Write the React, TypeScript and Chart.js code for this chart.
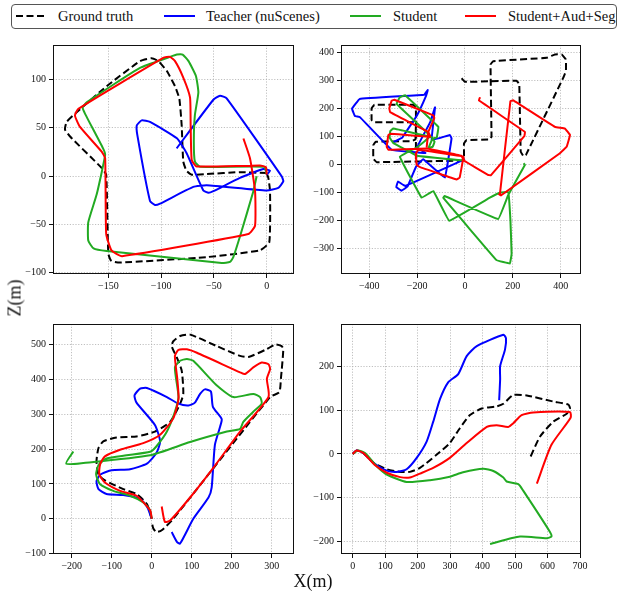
import React, { useEffect, useRef } from 'react';
import { Chart, registerables } from 'chart.js';

Chart.register(...registerables);

type P = [number, number];

// ---------- Series names / colours ----------
const seriesNames = ['Ground truth', 'Teacher (nuScenes)', 'Student', 'Student+Aud+Seg'];
const seriesColors = ['#000000', '#0000ff', '#22aa22', '#ff0000'];

// ---------- Panel 1 (top-left) ----------
const gt1: P[] = [[0,3],[-25,4],[-57,2],[-71,1.4],[-76,5.5],[-79,15],[-80.5,52.5],[-82.7,80],[-86.8,93],[-94.7,109],[-102.6,119],[-109,122],[-120,119],[-151.6,93],[-180,66],[-189.5,56],[-191,48],[-186,40.6],[-156,8],[-152,1.4],[-150,-80.5],[-147,-88],[-139,-89.7],[-57,-84],[-6.3,-77],[2.5,-68.5],[3.2,-15.7],[1.6,-2],[0,3]];
const teacher1: P[] = [[0,1.4],[3.2,5.5],[-3.2,7.2],[-25.3,-2],[-50.5,-15.7],[-55,-17.4],[-60,-15],[-75.8,23.5],[-85,39],[-110.5,56],[-118.4,57.6],[-123,52.5],[-122.5,42.3],[-110.5,-26],[-105.8,-30],[-101,-28.6],[-69.5,-11.3],[-56.8,-9.5],[0,-15],[11,-12.3],[15.8,-5.5],[14.2,-0.3],[-37.9,80.4],[-44.2,83.2],[-50.5,79],[-85.3,28.6]];
const student1: P[] = [[0,2],[-2.5,9.5],[-63,9.5],[-68,15],[-69,35.5],[-68,63],[-64.7,86.6],[-67,103.6],[-74,119],[-79.6,125.8],[-85,125.8],[-91.6,123.4],[-120,112],[-170.5,76.4],[-174.3,71],[-172,64.4],[-155,28.6],[-153,21.8],[-161,-19],[-169,-48],[-169,-66.8],[-164,-75],[-151.6,-77.7],[-42.6,-90],[-34.7,-89],[-31.6,-84],[-25,-61.7],[-12.6,-15.7],[-9.5,-0.3]];
const full1: P[] = [[0,1.4],[-0.6,8.9],[-6.3,11],[-66.3,9.9],[-71,16.7],[-72,52.5],[-72.6,81.5],[-79,102],[-86.8,119],[-91.6,123.4],[-98,122.4],[-178.4,69.6],[-181.6,62.7],[-176.8,50.8],[-156.3,25.2],[-153,18.4],[-152,-60],[-147,-77],[-137,-83],[-17.4,-60],[-11,-51.5],[-11,-15.7],[-15.8,18.4],[-22,38.9]];

// ---------- Panel 2 (top-right) ----------
const gt2: P[] = [[-14,307],[0,294],[216,298],[227,286],[233,45],[245,27],[255,33],[411,309],[422,333],[422,374],[404,392],[376,392],[341,380],[118,368],[107,356],[111,98],[104,88],[7,86],[-4,74],[-4,21],[-10,13],[-369,7],[-383,19],[-383,68],[-373,80],[-223,82],[-207,88],[-205,145],[-215,150],[-380,150],[-390,157],[-390,200],[-378,212],[-215,212],[-205,200],[-205,17]];
const teacher2: P[] = [[0,18],[-250,-78],[-280,-62],[-287,-82],[-265,-95],[-240,-80],[-205,-10],[-175,18],[-84,-48],[-56,92],[-63,104],[-139,86],[-125,203],[-145,150],[-200,60],[-165,40],[-306,51],[-439,168],[-460,172],[-472,198],[-440,233],[-170,248],[-155,265],[-163,243],[-200,175],[-262,95],[-300,78]];
const student2: P[] = [[0,12],[-200,30],[-300,76],[-315,95],[-312,118],[-300,127],[-140,97],[-127,80],[-135,62],[-152,58],[-135,92],[-118,95],[-111,133],[-250,246],[-272,239],[-286,215],[-145,100],[-200,60],[-272,27],[-181,-120],[-132,-96],[-66,-202],[104,-120],[146,-102],[181,-100],[190,-200],[195,-320],[188,-355],[132,-343],[-91,-120],[-85,-114],[139,-196],[181,-110],[251,-2],[245,3]];
const full2a: P[] = [[146,-108],[190,225],[202,228],[376,133],[418,127],[439,104],[425,62],[397,39],[150,-112],[140,-106]];
const full2b: P[] = [[63,239],[58,228],[251,115],[248,100],[108,-40],[96,-38],[-3,12],[-7,27],[-195,51],[-205,38],[-202,-2],[-190,-10],[-35,-55],[-22,-48],[-8,18],[-15,30],[-160,56],[-320,51],[-327,62],[-320,104],[-311,109],[-146,98],[-153,115],[-313,186],[-316,200],[-306,227],[-295,230],[-132,174],[-128,165],[-153,115],[-160,60]];

// ---------- Panel 3 (bottom-left) ----------
const gt3: P[] = [[0,0],[-12,42],[-38,71],[-71,85],[-117,110],[-133,127],[-138,165],[-133,203],[-121,222],[-88,233],[-38,236],[8,250],[46,278],[71,330],[79,358],[75,425],[63,462],[50,495],[54,509],[71,524],[96,528],[163,495],[221,467],[242,464],[287,486],[310,500],[325,495],[329,486],[323,401],[319,363],[296,349],[54,0],[25,-33],[12,-38],[4,-28],[0,-8]];
const teacher3: P[] = [[0,0],[-11,33],[-29,57],[-71,68],[-113,71],[-133,85],[-138,108],[-128,127],[-100,139],[-54,142],[-12,158],[12,189],[21,222],[8,269],[-38,333],[-43,354],[-29,373],[-12,375],[38,349],[67,330],[92,325],[108,333],[121,358],[133,371],[148,365],[153,321],[175,286],[171,264],[158,212],[150,90],[142,61],[104,0],[71,-71],[63,-66],[50,-38]];
const student3: P[] = [[0,0],[-4,24],[-21,47],[-54,66],[-96,80],[-129,99],[-139,127],[-133,154],[-113,173],[-63,182],[-4,192],[12,208],[38,250],[58,307],[67,349],[58,434],[71,453],[88,458],[104,453],[163,382],[204,349],[254,358],[271,349],[275,330],[254,307],[229,278],[221,258],[188,250],[96,220],[-4,182],[-171,160],[-214,158],[-196,193]];
const full3: P[] = [[0,0],[-4,24],[-38,66],[-79,80],[-117,104],[-131,127],[-129,156],[-117,179],[-79,198],[-21,217],[21,241],[54,288],[67,344],[64,401],[58,467],[67,484],[88,486],[113,476],[221,420],[233,415],[254,434],[275,448],[292,443],[296,429],[288,401],[292,349],[221,250],[154,146],[96,61],[46,-5],[33,-9],[25,35]];

// ---------- Panel 4 (bottom-right) ----------
const gt4: P[] = [[0,0],[12,8],[33,2],[64,-20],[105,-35],[146,-41],[176,-41],[207,-32],[258,-2],[299,25],[330,59],[361,89],[397,104],[443,109],[464,115],[494,135],[536,134],[618,120],[664,113],[669,104],[659,92],[618,74],[577,40],[546,-9]];
const teacher4: P[] = [[0,0],[12,8],[33,2],[64,-20],[105,-38],[135,-41],[166,-35],[197,-9],[228,29],[248,74],[269,126],[294,164],[325,183],[351,224],[382,247],[464,273],[472,265],[469,239],[454,201],[454,171],[451,123]];
const student4: P[] = [[0,0],[17,8],[38,2],[74,-28],[105,-47],[166,-64],[238,-60],[299,-52],[340,-42],[402,-34],[433,-39],[464,-54],[474,-63],[510,-69],[525,-84],[607,-178],[612,-189],[597,-193],[515,-189],[423,-206]];
const full4: P[] = [[0,0],[12,8],[33,2],[69,-26],[105,-43],[146,-53],[176,-54],[207,-45],[248,-32],[299,-9],[351,25],[413,62],[443,66],[479,62],[494,70],[520,89],[556,95],[669,96],[671,83],[612,21],[567,-68]];

// ---------- Tick labels ----------
const xTicks1 = [-150, -100, -50, 0];
const yTicks1 = [-100, -50, 0, 50, 100];
const xTicks2 = [-400, -200, 0, 200, 400];
const yTicks2 = [-300, -200, -100, 0, 100, 200, 300, 400];
const xTicks3 = [-200, -100, 0, 100, 200, 300];
const yTicks3 = [-100, 0, 100, 200, 300, 400, 500];
const xTicks4 = [0, 100, 200, 300, 400, 500, 600, 700];
const yTicks4 = [-200, -100, 0, 100, 200];

// ---------- Layout ----------
const PADL = 46;
const PADT = 6;
const PADR = 12;
const PADB = 24;
const FONT = "'Liberation Serif', 'Times New Roman', serif";

type PanelCfg = {
  left: number; top: number; w: number; h: number;
  xMin: number; xMax: number; yMin: number; yMax: number;
  xTicks: number[]; yTicks: number[];
  series: P[][][]; tension: number;
};

const panels: PanelCfg[] = [
  { left: 53, top: 42, w: 241, h: 232, xMin: -202.4, xMax: 25.9, yMin: -101.5, yMax: 135.7, xTicks: xTicks1, yTicks: yTicks1,
    series: [[gt1], [teacher1], [student1], [full1]], tension: 0.15 },
  { left: 341, top: 42, w: 240, h: 232, xMin: -518, xMax: 485, yMin: -392.6, yMax: 425.7, xTicks: xTicks2, yTicks: yTicks2,
    series: [[gt2], [teacher2], [student2], [full2a, full2b]], tension: 0.05 },
  { left: 53, top: 321, w: 241, h: 233, xMin: -246.8, xMax: 355.8, yMin: -101, yMax: 558.5, xTicks: xTicks3, yTicks: yTicks3,
    series: [[gt3], [teacher3], [student3], [full3]], tension: 0.2 },
  { left: 341, top: 321, w: 240, h: 233, xMin: -36, xMax: 703, yMin: -229, yMax: 297.6, xTicks: xTicks4, yTicks: yTicks4,
    series: [[gt4], [teacher4], [student4], [full4]], tension: 0.2 },
];

const fmt = (v: number | string) => String(v).replace('-', '\u2212');

const framePlugin = {
  id: 'frame',
  afterDraw(chart: any) {
    const { ctx, chartArea: a } = chart;
    ctx.save();
    ctx.strokeStyle = '#111';
    ctx.lineWidth = 1;
    ctx.setLineDash([]);
    ctx.strokeRect(Math.round(a.left) + 0.5, Math.round(a.top) + 0.5, Math.round(a.right - a.left) - 1, Math.round(a.bottom - a.top) - 1);
    ctx.restore();
  },
};

function Panel({ cfg }: { cfg: PanelCfg }) {
  const ref = useRef<HTMLCanvasElement>(null);
  const W = PADL + cfg.w + PADR;
  const H = PADT + cfg.h + PADB;
  useEffect(() => {
    const datasets: any[] = [];
    cfg.series.forEach((segs, si) => {
      segs.forEach((seg) => {
        datasets.push({
          label: seriesNames[si],
          data: seg.map(([x, y]) => ({ x, y })),
          showLine: true,
          pointRadius: 0,
          pointHoverRadius: 0,
          borderColor: seriesColors[si],
          backgroundColor: seriesColors[si],
          borderWidth: 2,
          borderDash: si === 0 ? [7, 3.5] : [],
          borderJoinStyle: 'round',
          borderCapStyle: 'butt',
          tension: cfg.tension,
          fill: false,
          order: 3 - si,
        });
      });
    });
    const tickFont = { family: FONT, size: 10 };
    const grid = {
      color: '#b0b0b0',
      lineWidth: 0.8,
      drawTicks: true,
      tickLength: 4,
      tickColor: '#111',
      tickWidth: 1,
      tickBorderDash: [],
    };
    const chart = new Chart(ref.current as HTMLCanvasElement, {
      type: 'scatter',
      data: { datasets },
      options: {
        animation: false,
        responsive: false,
        maintainAspectRatio: false,
        devicePixelRatio: 1,
        events: [],
        layout: { padding: { top: PADT, right: PADR, left: 0, bottom: 0 } },
        plugins: { legend: { display: false }, tooltip: { enabled: false } },
        scales: {
          x: {
            type: 'linear',
            min: cfg.xMin,
            max: cfg.xMax,
            afterBuildTicks: (s: any) => { s.ticks = cfg.xTicks.map((v) => ({ value: v })); },
            afterFit: (s: any) => { s.height = PADB; },
            ticks: { font: tickFont, color: '#111', padding: 2, maxRotation: 0, autoSkip: false, callback: (v: any) => fmt(v) },
            grid,
            border: { display: false, dash: [1.2, 1.6] },
          },
          y: {
            type: 'linear',
            min: cfg.yMin,
            max: cfg.yMax,
            afterBuildTicks: (s: any) => { s.ticks = cfg.yTicks.map((v) => ({ value: v })); },
            afterFit: (s: any) => { s.width = PADL; },
            ticks: { font: tickFont, color: '#111', padding: 3, autoSkip: false, callback: (v: any) => fmt(v) },
            grid,
            border: { display: false, dash: [1.2, 1.6] },
          },
        },
      } as any,
      plugins: [framePlugin],
    });
    let alive = true;
    const fonts = (document as any).fonts;
    if (fonts && fonts.load) {
      fonts.load('10px "Liberation Serif"').then(() => { if (alive) chart.update(); }).catch(() => {});
    }
    return () => { alive = false; chart.destroy(); };
  }, []);
  return (
    <canvas
      ref={ref}
      width={W}
      height={H}
      style={{ position: 'absolute', left: cfg.left - PADL, top: cfg.top - PADT, width: W, height: H }}
    />
  );
}

const legendSampleX = [16, 164, 350, 465];
const legendTextX = [58, 206, 393, 508];

function Legend() {
  return (
    <div style={{ position: 'absolute', left: 0, top: 0 }}>
      <div
        style={{
          position: 'absolute', left: 11, top: 4, width: 606, height: 25, boxSizing: 'border-box',
          border: '1px solid #555', borderRadius: 4, background: '#fff',
        }}
      />
      {seriesNames.map((name, i) => (
        <React.Fragment key={name}>
          <svg style={{ position: 'absolute', left: legendSampleX[i], top: 12, width: 31, height: 8 }} width={31} height={8}>
            <line x1={0} y1={4} x2={31} y2={4} stroke={seriesColors[i]} strokeWidth={2}
              strokeDasharray={i === 0 ? '7 3.5' : undefined} />
          </svg>
          <span
            style={{
              position: 'absolute', left: legendTextX[i], top: 4, height: 25, lineHeight: '25px',
              fontFamily: FONT, fontSize: 14.5, color: '#111', whiteSpace: 'nowrap',
            }}
          >
            {name}
          </span>
        </React.Fragment>
      ))}
    </div>
  );
}

export default function App() {
  return (
    <div style={{ position: 'fixed', left: 0, top: 0, width: 620, height: 594, background: '#fff', overflow: 'hidden' }}>
      <Legend />
      {panels.map((p, i) => (
        <Panel key={i} cfg={p} />
      ))}
      <div
        style={{
          position: 'absolute', left: 15, top: 298, transform: 'translate(-50%, -50%) rotate(-90deg)',
          fontFamily: FONT, fontSize: 18, color: '#111', whiteSpace: 'nowrap',
        }}
      >
        Z(m)
      </div>
      <div
        style={{
          position: 'absolute', left: 313, top: 581, transform: 'translate(-50%, -50%)',
          fontFamily: FONT, fontSize: 18, color: '#111', whiteSpace: 'nowrap',
        }}
      >
        X(m)
      </div>
    </div>
  );
}
